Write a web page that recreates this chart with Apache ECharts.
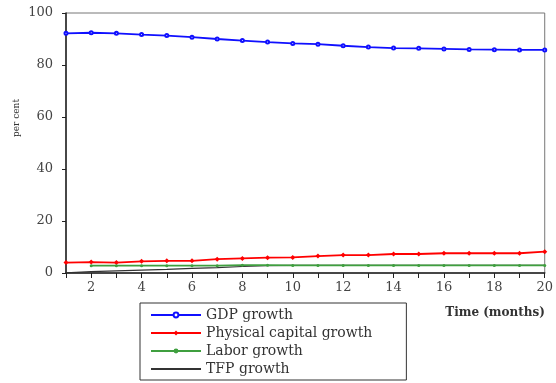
<!DOCTYPE html>
<html>
<head>
<meta charset="utf-8">
<script src="https://cdn.jsdelivr.net/npm/echarts@6/dist/echarts.min.js"></script>
<style>
  html, body { margin: 0; padding: 0; background: #fff; }
  #chart { width: 556px; height: 383px; }
</style>
</head>
<body>
<div id="chart"></div>
<script>
// months 1..20
const months = [1, 2, 3, 4, 5, 6, 7, 8, 9, 10, 11, 12, 13, 14, 15, 16, 17, 18, 19, 20];
const gdpGrowth = [92.2, 92.4, 92.2, 91.7, 91.3, 90.7, 90.0, 89.4, 88.8, 88.3, 88.0, 87.4, 86.9, 86.5, 86.4, 86.2, 86.0, 85.9, 85.8, 85.8];
const capitalGrowth = [4.0, 4.2, 4.0, 4.5, 4.7, 4.7, 5.3, 5.6, 5.9, 6.0, 6.5, 6.9, 6.9, 7.3, 7.3, 7.6, 7.6, 7.6, 7.6, 8.2];
const laborGrowth = [null, 2.8, 2.8, 2.8, 2.8, 2.8, 2.8, 3.0, 3.0, 2.9, 2.9, 2.9, 2.9, 2.9, 2.9, 2.9, 2.9, 2.9, 2.9, 2.9];
const tfpGrowth = [0.1, 0.5, 0.8, 1.1, 1.4, 1.8, 2.1, 2.5, 2.8, 2.9, 2.9, 2.9, 2.9, 2.9, 2.9, 2.9, 2.9, 2.9, 2.9, 2.9];
const seriesNames = ['GDP growth', 'Physical capital growth', 'Labor growth', 'TFP growth'];
const yTicks = [0, 20, 40, 60, 80, 100];

const serif = 'DejaVu Serif';
const pair = (arr) => months.map((m, i) => [m, arr[i]]);

const chart = echarts.init(document.getElementById('chart'));
chart.setOption({
  animation: false,
  grid: { left: 66, right: 7, top: 13, bottom: 110, show: true, borderColor: '#777', borderWidth: 1 },
  xAxis: {
    type: 'value', min: 1, max: 20, interval: 1,
    axisLine: { lineStyle: { color: '#222', width: 1.5 } },
    axisTick: { show: true, length: 5, lineStyle: { color: '#222' } },
    splitLine: { show: false },
    axisLabel: {
      color: '#444', fontFamily: serif, fontSize: 13, margin: 8,
      formatter: (v) => (v % 2 === 0 ? String(v) : '')
    }
  },
  yAxis: {
    type: 'value', min: yTicks[0], max: yTicks[yTicks.length - 1], interval: 20,
    axisLine: { show: true, lineStyle: { color: '#222', width: 1.5 } },
    axisTick: { show: true, length: 4, lineStyle: { color: '#222' } },
    splitLine: { show: false },
    axisLabel: { color: '#444', fontFamily: serif, fontSize: 13, margin: 13 }
  },
  title: {
    text: 'Time (months)', right: 6, top: 302,
    textStyle: { fontFamily: serif, fontSize: 12, fontWeight: 'bold', color: '#333' }
  },
  graphic: [{
    type: 'text', x: 17, y: 118, rotation: Math.PI / 2,
    style: { text: 'per cent', fontFamily: serif, fontSize: 9, fill: '#333', align: 'center', verticalAlign: 'middle' }
  }],
  legend: {
    orient: 'vertical', left: 140, top: 303,
    data: [
      { name: seriesNames[0] },
      { name: seriesNames[1] },
      { name: seriesNames[2] },
      { name: seriesNames[3], icon: 'path://M0 0H50V2H0Z' }
    ],
    borderColor: '#333', borderWidth: 1, padding: [5, 34, 4, 10],
    itemWidth: 50, itemHeight: 6, itemGap: 4,
    textStyle: { fontFamily: serif, fontSize: 14, color: '#333' }
  },
  series: [
    {
      name: seriesNames[0], type: 'line', data: pair(gdpGrowth),
      color: '#1010ff', lineStyle: { width: 1.8 },
      symbol: 'emptyCircle', symbolSize: 3
    },
    {
      name: seriesNames[1], type: 'line', data: pair(capitalGrowth),
      color: '#ff0000', lineStyle: { width: 1.8 },
      symbol: 'diamond', symbolSize: 5
    },
    {
      name: seriesNames[2], type: 'line', data: pair(laborGrowth),
      color: '#3f9f3f', lineStyle: { width: 1.8 },
      symbol: 'circle', symbolSize: 3
    },
    {
      name: seriesNames[3], type: 'line', data: pair(tfpGrowth),
      color: '#333333', lineStyle: { width: 1.2 },
      symbol: 'none', showSymbol: false, z: 1
    }
  ]
});
</script>
</body>
</html>
